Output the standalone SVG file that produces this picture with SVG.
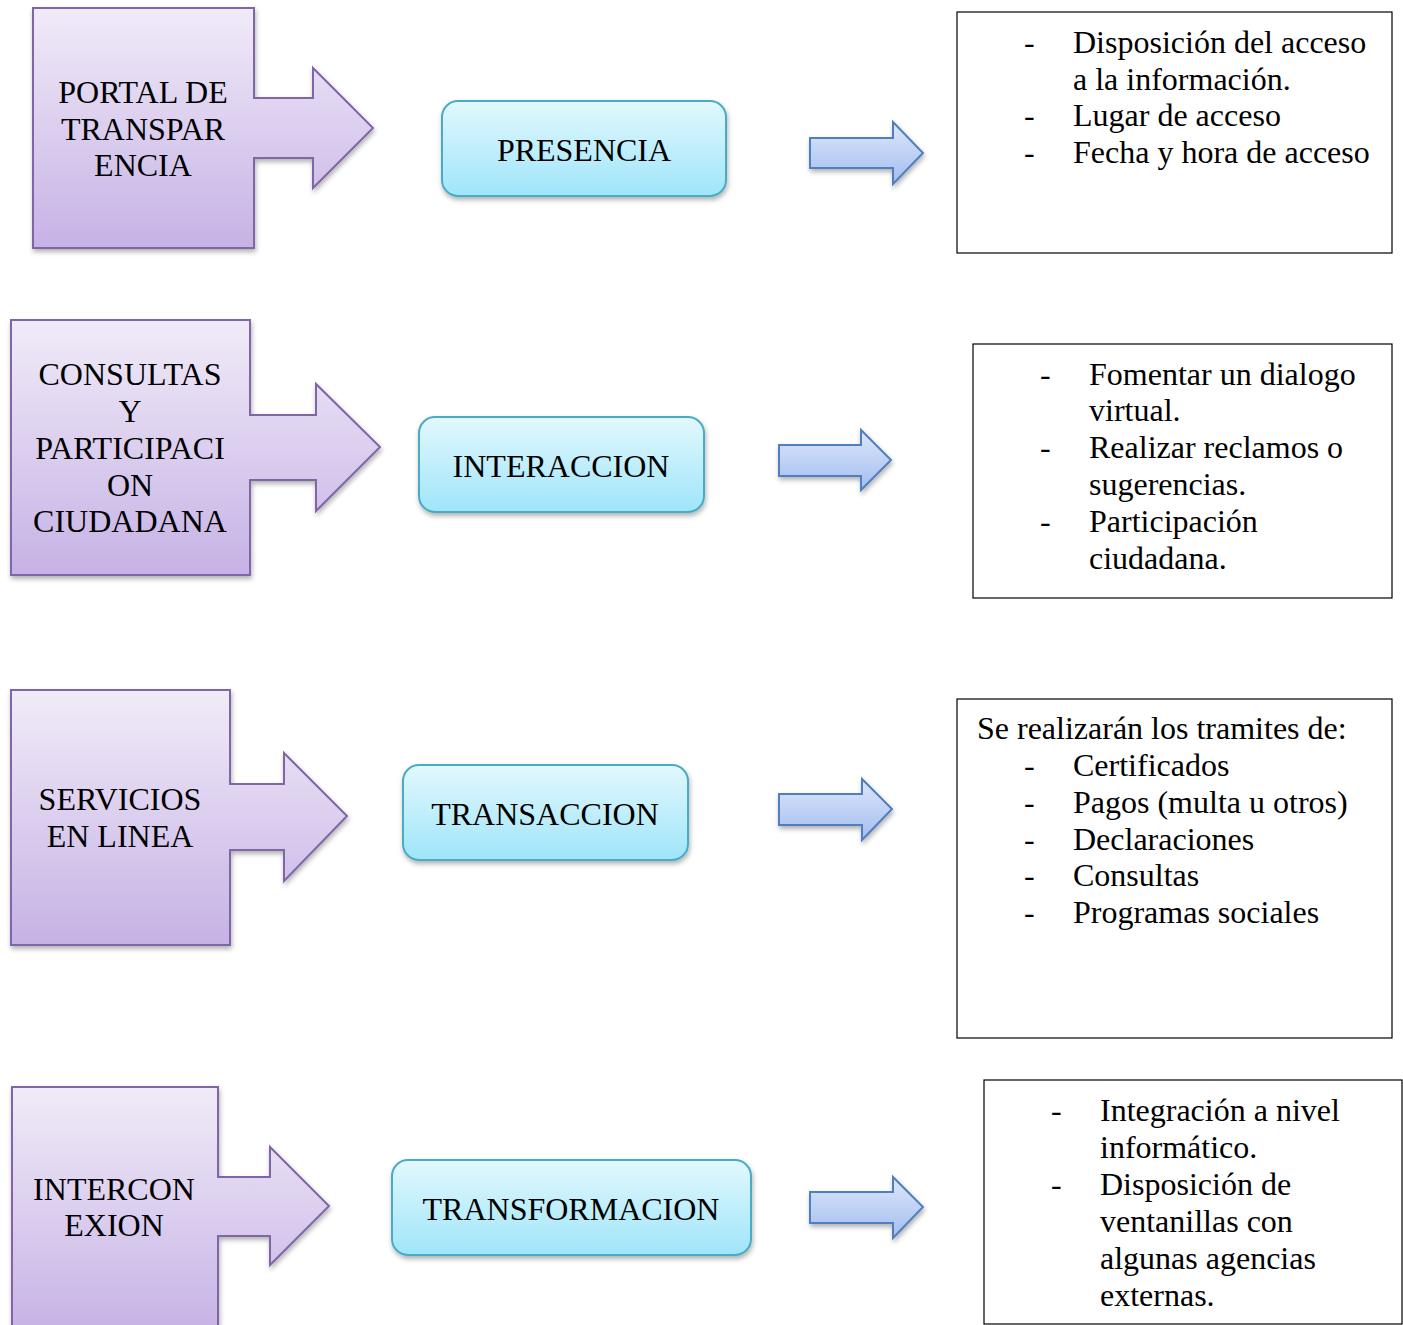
<svg xmlns="http://www.w3.org/2000/svg" width="1403" height="1325" viewBox="0 0 1403 1325">
<defs>
<linearGradient id="gPurple" x1="0" y1="0" x2="0" y2="1">
<stop offset="0" stop-color="#f1ebf8"/><stop offset="1" stop-color="#c6b2e5"/>
</linearGradient>
<linearGradient id="gCyan" x1="0" y1="0" x2="0" y2="1">
<stop offset="0" stop-color="#e2f8fd"/><stop offset="1" stop-color="#9fe5fa"/>
</linearGradient>
<linearGradient id="gBlue" x1="0" y1="0" x2="0" y2="1">
<stop offset="0" stop-color="#dde7fa"/><stop offset="1" stop-color="#a3bdf0"/>
</linearGradient>
<filter id="sh" x="-10%" y="-10%" width="125%" height="130%">
<feDropShadow dx="1" dy="3" stdDeviation="2.5" flood-color="#000" flood-opacity="0.3"/>
</filter>
<style>
.callout{fill:url(#gPurple);stroke:#8066a8;stroke-width:2;filter:url(#sh)}
.stage{fill:url(#gCyan);stroke:#4aacc6;stroke-width:2;filter:url(#sh)}
.conn{fill:url(#gBlue);stroke:#4f7fbf;stroke-width:2;filter:url(#sh)}
.box{fill:#fff;stroke:#000;stroke-width:1.2}
text{font-family:"Liberation Serif","Times New Roman",serif;font-size:32px;fill:#000}
.c{text-anchor:middle}
</style>
</defs>
<rect width="1403" height="1325" fill="#fff"/>

<g id="node-portal">
<path class="callout" d="M33,8 H254 V98 H313 V68 L373,128 L313,188 V158 H254 V248 H33 Z"/>
<text class="c" x="143" y="103">PORTAL DE</text>
<text class="c" x="143" y="140">TRANSPAR</text>
<text class="c" x="143" y="176">ENCIA</text>
</g>
<g id="node-presencia">
<rect class="stage" x="442" y="101" width="284" height="95" rx="16"/>
<text class="c" x="584" y="161">PRESENCIA</text>
</g>
<g id="node-list1">
<rect class="box" x="957" y="12" width="435" height="241"/>
<text x="1024" y="53">-</text><text x="1073" y="53">Disposición del acceso</text>
<text x="1073" y="90">a la información.</text>
<text x="1024" y="126">-</text><text x="1073" y="126">Lugar de acceso</text>
<text x="1024" y="163">-</text><text x="1073" y="163">Fecha y hora de acceso</text>
</g>

<g id="node-consultas">
<path class="callout" d="M11,320 H250 V415 H316 V384 L380,447 L316,511 V480 H250 V575 H11 Z"/>
<text class="c" x="130" y="385">CONSULTAS</text>
<text class="c" x="130" y="422">Y</text>
<text class="c" x="130" y="459">PARTICIPACI</text>
<text class="c" x="130" y="496">ON</text>
<text class="c" x="130" y="532">CIUDADANA</text>
</g>
<g id="node-interaccion">
<rect class="stage" x="419" y="417" width="285" height="95" rx="16"/>
<text class="c" x="561" y="477">INTERACCION</text>
</g>
<g id="node-list2">
<rect class="box" x="973" y="344" width="419" height="254"/>
<text x="1040" y="385">-</text><text x="1089" y="385">Fomentar un dialogo</text>
<text x="1089" y="421">virtual.</text>
<text x="1040" y="458">-</text><text x="1089" y="458">Realizar reclamos o</text>
<text x="1089" y="495">sugerencias.</text>
<text x="1040" y="532">-</text><text x="1089" y="532">Participación</text>
<text x="1089" y="569">ciudadana.</text>
</g>

<g id="node-servicios">
<path class="callout" d="M11,690 H230 V784 H284 V753 L347,816 L284,881 V850 H230 V945 H11 Z"/>
<text class="c" x="120" y="810">SERVICIOS</text>
<text class="c" x="120" y="847">EN LINEA</text>
</g>
<g id="node-transaccion">
<rect class="stage" x="403" y="765" width="285" height="95" rx="16"/>
<text class="c" x="545" y="825">TRANSACCION</text>
</g>
<g id="node-list3">
<rect class="box" x="957" y="699" width="435" height="339"/>
<text x="977" y="739">Se realizarán los tramites de:</text>
<text x="1024" y="776">-</text><text x="1073" y="776">Certificados</text>
<text x="1024" y="813">-</text><text x="1073" y="813">Pagos (multa u otros)</text>
<text x="1024" y="850">-</text><text x="1073" y="850">Declaraciones</text>
<text x="1024" y="886">-</text><text x="1073" y="886">Consultas</text>
<text x="1024" y="923">-</text><text x="1073" y="923">Programas sociales</text>
</g>

<g id="node-interconexion">
<path class="callout" d="M12,1087 H218 V1177 H270 V1147 L329,1206 L270,1265 V1236 H218 V1335 H12 Z"/>
<text class="c" x="114" y="1200">INTERCON</text>
<text class="c" x="114" y="1236">EXION</text>
</g>
<g id="node-transformacion">
<rect class="stage" x="392" y="1160" width="359" height="95" rx="16"/>
<text class="c" x="571" y="1220">TRANSFORMACION</text>
</g>
<g id="node-list4">
<rect class="box" x="984" y="1080" width="418" height="244"/>
<text x="1051" y="1121">-</text><text x="1100" y="1121">Integración a nivel</text>
<text x="1100" y="1158">informático.</text>
<text x="1051" y="1195">-</text><text x="1100" y="1195">Disposición de</text>
<text x="1100" y="1232">ventanillas con</text>
<text x="1100" y="1269">algunas agencias</text>
<text x="1100" y="1306">externas.</text>
</g>

<g id="connectors">
<path class="conn" d="M810,138 H893 V122 L923,153 L893,184 V168 H810 Z"/>
<path class="conn" d="M779,445 H861 V430 L891,460 L861,490 V476 H779 Z"/>
<path class="conn" d="M779,794 H862 V779 L892,809 L862,840 V825 H779 Z"/>
<path class="conn" d="M810,1192 H893 V1177 L923,1207 L893,1238 V1223 H810 Z"/>
</g>
</svg>
